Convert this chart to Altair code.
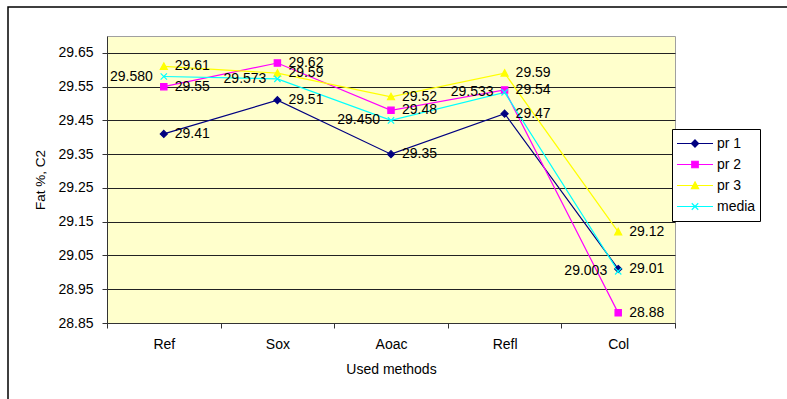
import altair as alt
import pandas as pd

methods = ["Ref", "Sox", "Aoac", "Refl", "Col"]
series_names = ["pr 1", "pr 2", "pr 3", "media"]
pr1 = [29.41, 29.51, 29.35, 29.47, 29.01]
pr2 = [29.55, 29.62, 29.48, 29.54, 28.88]
pr3 = [29.61, 29.59, 29.52, 29.59, 29.12]
media = [29.580, 29.573, 29.450, 29.533, 29.003]
y_ticks = [28.85, 28.95, 29.05, 29.15, 29.25, 29.35, 29.45, 29.55, 29.65]
decimals = [2, 2, 2, 3]
label_side = ["right", "right", "right", "left"]

# styles
colors = ["#000080", "#FF00FF", "#FFFF00", "#00FFFF"]
fills = ["#000080", "#FF00FF", "#FFFF00", "transparent"]
marker_paths = [
    "M0,-1L1,0L0,1L-1,0Z",
    "M-0.9,-0.9H0.9V0.9H-0.9Z",
    "M0,-1L1,0.85H-1Z",
    "M-0.9,-0.9L0.9,0.9M-0.9,0.9L0.9,-0.9",
]
legend_paths = [
    "M-1,0H1M0,-0.2L0.2,0L0,0.2L-0.2,0Z",
    "M-1,0H1M-0.18,-0.18H0.18V0.18H-0.18Z",
    "M-1,0H1M0,-0.2L0.2,0.17H-0.2Z",
    "M-1,0H1M-0.18,-0.18L0.18,0.18M-0.18,0.18L0.18,-0.18",
]

rows = []
for i, (name, vals) in enumerate(zip(series_names, [pr1, pr2, pr3, media])):
    for j, (m, v) in enumerate(zip(methods, vals)):
        rows.append(dict(method=m, idx=j, value=v, series=name, sorder=i,
                         stroke=colors[i], fill=fills[i], shape=marker_paths[i],
                         label=f"{v:.{decimals[i]}f}", side=label_side[i]))
df = pd.DataFrame(rows)

FONT = "Liberation Sans"

x_enc = alt.X(
    "method:N", sort=methods,
    scale=alt.Scale(type="band", domain=methods, paddingInner=0, paddingOuter=0),
    axis=alt.Axis(title="Used methods", tickBand="extent", labelAngle=0,
                  labelFont=FONT, labelFontSize=14, labelColor="black",
                  titleFont=FONT, titleFontSize=14, titleFontWeight="normal",
                  titleColor="black", titleY=50, titleBaseline="alphabetic",
                  tickSize=5, labelPadding=9, domainColor="#333333",
                  tickColor="#333333", grid=False),
)
y_enc = alt.Y(
    "value:Q",
    scale=alt.Scale(domain=[28.85, 29.70], nice=False, zero=False),
    axis=alt.Axis(values=y_ticks, format=".2f", title="Fat %, C2",
                  grid=True, gridColor="#222222", gridWidth=1,
                  labelFont=FONT, labelFontSize=14, labelColor="black",
                  titleFont=FONT, titleFontSize=13.5, titleFontWeight="normal",
                  titleColor="black", titleX=-67, titleBaseline="middle",
                  tickSize=5, labelPadding=9, domainColor="#333333",
                  tickColor="#333333"),
)

base = alt.Chart(df)

lines = base.mark_line(strokeWidth=1.2).encode(
    x=x_enc, y=y_enc,
    color=alt.Color("stroke:N", scale=None),
    detail="sorder:O",
    order=alt.Order("idx:Q"),
)

points = base.mark_point(filled=True, size=49, strokeWidth=1.2, opacity=1).encode(
    x=x_enc, y=y_enc,
    fill=alt.Fill("fill:N", scale=None),
    stroke=alt.Stroke("stroke:N", scale=None),
    shape=alt.Shape("shape:N", scale=None),
)

text_right = base.mark_text(align="left", baseline="middle", dx=11, font=FONT,
                            fontSize=14, color="black").encode(
    x=x_enc, y=y_enc, text="label:N"
).transform_filter(alt.datum.side == "right")

text_left = base.mark_text(align="right", baseline="middle", dx=-11, font=FONT,
                           fontSize=14, color="black").encode(
    x=x_enc, y=y_enc, text="label:N"
).transform_filter(alt.datum.side == "left")

leg = alt.Legend(title=None, orient="none", legendX=565, legendY=93, padding=4,
                 strokeColor="black", fillColor="white", labelFont=FONT,
                 labelFontSize=14, labelColor="black", symbolSize=1296,
                 symbolStrokeWidth=1.2, symbolOpacity=1, clipHeight=21,
                 rowPadding=0, labelOffset=3, cornerRadius=0)

legend_layer = base.mark_point(filled=True, opacity=0, size=1296, strokeWidth=1.2).encode(
    x=x_enc, y=y_enc,
    color=alt.Color("series:N", scale=alt.Scale(domain=series_names, range=colors), legend=leg),
    stroke=alt.Stroke("series:N", scale=alt.Scale(domain=series_names, range=colors), legend=leg),
    shape=alt.Shape("series:N", scale=alt.Scale(domain=series_names, range=legend_paths), legend=leg),
)

frame = alt.Chart(pd.DataFrame({"a": [0]})).mark_rect(
    fill="transparent", stroke="black", strokeWidth=1.5
).encode(x=alt.value(-99), x2=alt.value(800), y=alt.value(-29), y2=alt.value(500))

chart = alt.layer(frame, lines, points, text_right, text_left, legend_layer).properties(
    width=568, height=287,
    autosize=alt.AutoSizeParams(type="none"),
    padding={"left": 107, "top": 36, "right": 112, "bottom": 76},
    background="white",
).configure_view(fill="#FFFFCC", stroke="#A0A0A0", strokeWidth=1)

chart.save("out.html", embed_options={"renderer": "svg", "actions": False})
